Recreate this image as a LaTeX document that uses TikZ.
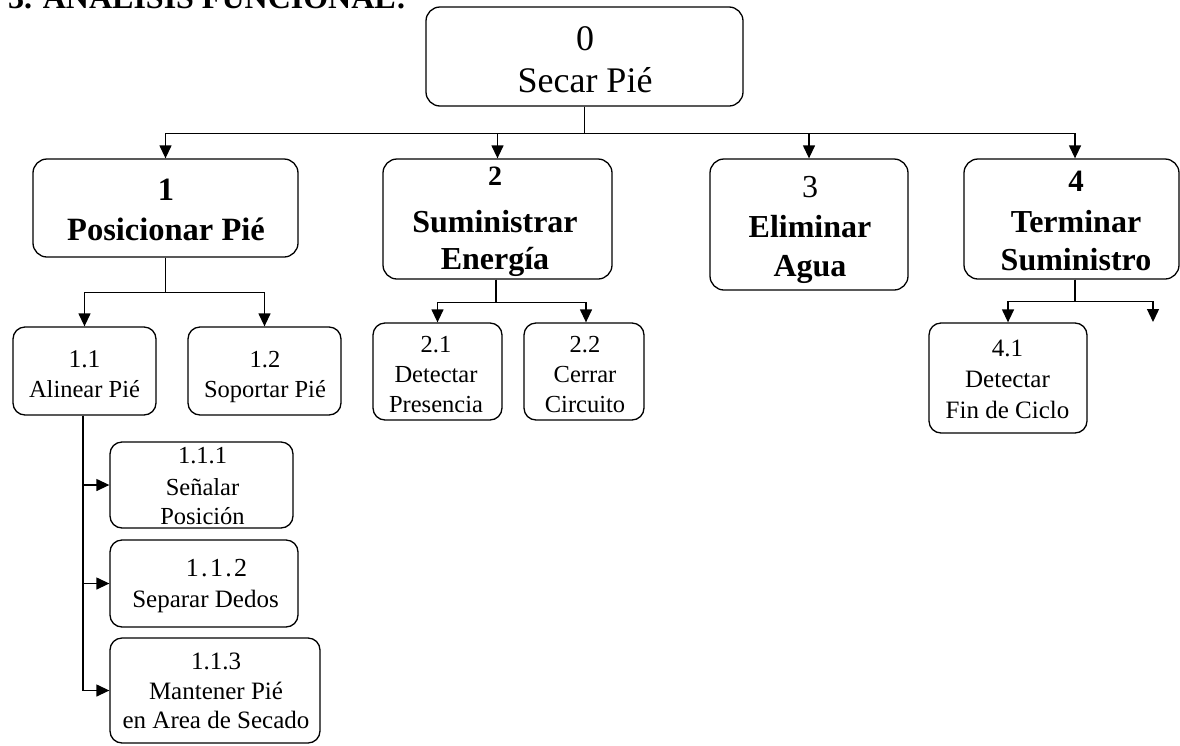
\documentclass[tikz,border=0pt]{standalone}
\usepackage{fontspec}
\setmainfont{Liberation Serif}
\usetikzlibrary{arrows.meta}

\tikzset{
  fbox/.style={draw, line width=1.3pt, rounded corners=14pt, inner sep=0pt},
  sbox/.style={fbox, rounded corners=12pt},
  txt/.style={anchor=base, inner sep=0pt},
  link/.style={line width=1.3pt},
  arr/.style={link, -{Triangle[length=13pt,width=12pt]}},
}
% font size / baseline skip
\newcommand{\fsz}[2]{\fontsize{#1}{#2}\selectfont}
% stacked centred lines, aligned on the first baseline
\newcommand{\stack}[1]{\begin{tabular}[t]{@{}c@{}}#1\end{tabular}}

\begin{document}
\begin{tikzpicture}[x=1pt,y=-1pt]
\useasboundingbox (0,0) rectangle (1180,745);

% heading, mostly above the page edge
\node[anchor=base west, inner sep=0pt, font=\bfseries\fsz{32}{32}] (title) at (8,8) {3. ANALISIS FUNCIONAL:};

% ---------- boxes ----------
% level 0
\node[fbox, minimum width=317pt, minimum height=99pt] (n0) at (584.5,56.5) {};
% level 1
\node[fbox, minimum width=265pt, minimum height=98pt]  (n1) at (165.5,208) {};
\node[fbox, minimum width=229pt, minimum height=120pt] (n2) at (497.5,219) {};
\node[fbox, minimum width=198pt, minimum height=131pt] (n3) at (809,224.5) {};
\node[fbox, minimum width=215pt, minimum height=120pt] (n4) at (1071.5,219) {};
% level 2
\node[sbox, minimum width=143pt, minimum height=88pt]  (n11) at (84.5,371) {};
\node[sbox, minimum width=153pt, minimum height=88pt]  (n12) at (264.5,371) {};
\node[sbox, minimum width=129pt, minimum height=97pt]  (n21) at (437.5,371.5) {};
\node[sbox, minimum width=120pt, minimum height=97pt]  (n22) at (584,371.5) {};
\node[sbox, minimum width=158pt, minimum height=110pt] (n41) at (1008,378) {};
\coordinate (n42) at (1153,322);
% level 3
\node[sbox, minimum width=183pt, minimum height=86pt]  (n111) at (201.5,485) {};
\node[sbox, minimum width=188pt, minimum height=87pt]  (n112) at (204,583.5) {};
\node[sbox, minimum width=210pt, minimum height=105pt] (n113) at (215,690.5) {};

% ---------- box texts (placed on their first baseline) ----------
\node[txt, font=\fsz{36}{42}] (t0) at (585,50) {\stack{0\\Secar Pié}};

\node[txt, font=\bfseries\fsz{32.5}{40}] (t1) at (166,200)
  {\stack{1\\Posicionar Pié}};
\node[txt, font=\bfseries\fsz{32}{37}] (t2) at (495,185)
  {\stack{{\fsz{28}{37}2}\\[10pt]Suministrar\\Energía}};
\node[txt, font=\fsz{32}{40}] (t3) at (810,197)
  {\stack{3\\[0pt]\textbf{Eliminar}\\[-1pt]\textbf{Agua}}};
\node[txt, font=\bfseries\fsz{32}{38}] (t4) at (1076,191)
  {\stack{{\fsz{31}{38}4}\\[3pt]Terminar\\Suministro}};

\node[txt, font=\fsz{24.5}{30}] (t11) at (84.5,367) {\stack{{\fsz{25.5}{30}1.1}\\Alinear Pié}};
\node[txt, font=\fsz{24.5}{30}] (t12) at (265,367) {\stack{1.2\\Soportar Pié}};
\node[txt, font=\fsz{24.5}{30}] (t21) at (436,352) {\stack{2.1\\Detectar\\Presencia}};
\node[txt, font=\fsz{24.5}{30}] (t22) at (585,352) {\stack{2.2\\Cerrar\\Circuito}};
\node[txt, font=\fsz{25}{31}] (t41) at (1007.5,356) {\stack{4.1\\Detectar\\Fin de Ciclo}};

\node[txt, font=\fsz{24.5}{30}] (t111) at (202.5,463) {\stack{1.1.1\\[2pt]Señalar\\[-1pt]Posición}};
\node[txt, font=\fsz{25}{31}] (t112) at (205.5,576)
  {\stack{\hspace*{22pt}{\fsz{26}{31}\addfontfeature{LetterSpace=9}1.1.2}\\Separar Dedos}};
\node[txt, font=\fsz{25}{30}] (t113) at (216,669) {\stack{1.1.3\\Mantener Pié\\[-1pt]en Area de Secado}};

% ---------- connectors ----------
% 0 -> 1..4
\draw[arr] (n0.south) -- ++(0,27) -| (n1.north);
\draw[arr] (n0.south) -- ++(0,27) -| (n2.north);
\draw[arr] (n0.south) -- ++(0,27) -| (n3.north);
\draw[arr] (n0.south) -- ++(0,27) -| ([xshift=3.5pt]n4.north);

% 1 -> 1.1, 1.2
\draw[arr] (n1.south) -- ++(0,35) -| (n11.north);
\draw[arr] (n1.south) -- ++(0,35) -| (n12.north);

% 2 -> 2.1, 2.2
\draw[arr] ([xshift=-1.5pt]n2.south) -- ++(0,23) -| (n21.north);
\draw[arr] ([xshift=-1.5pt]n2.south) -- ++(0,23) -| ([xshift=2pt]n22.north);

% 4 -> 4.1 and an open branch
\draw[arr] ([xshift=3.5pt]n4.south) -- ++(0,22) -| (n41.north);
\draw[arr] ([xshift=3.5pt]n4.south) -- ++(0,22) -| (n42);

% 1.1 -> 1.1.x
\draw[arr] ([xshift=-1.5pt]n11.south) |- (n111.west);
\draw[arr] ([xshift=-1.5pt]n11.south) |- (n112.west);
\draw[arr] ([xshift=-1.5pt]n11.south) |- (n113.west);
\end{tikzpicture}
\end{document}
